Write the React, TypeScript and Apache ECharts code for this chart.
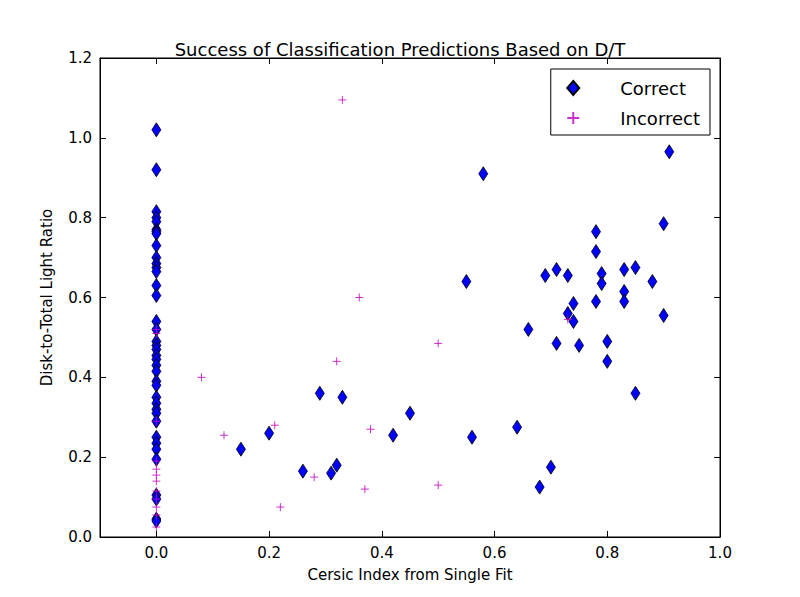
import React, { useEffect, useRef } from "react";
import * as echarts from "echarts";

const correctZeroY = [1.02, 0.92, 0.815, 0.8, 0.79, 0.77, 0.765, 0.76, 0.73, 0.7, 0.685, 0.675, 0.665, 0.63, 0.605, 0.54, 0.52, 0.49, 0.48, 0.47, 0.455, 0.445, 0.43, 0.415, 0.39, 0.38, 0.35, 0.335, 0.32, 0.31, 0.29, 0.25, 0.235, 0.22, 0.195, 0.105, 0.095, 0.045, 0.04];
const incorrectZeroY = [0.52, 0.51, 0.29, 0.19, 0.17, 0.155, 0.14, 0.115, 0.095, 0.075, 0.055, 0.025];

const correctOther: [number, number][] = [
	[0.15, 0.22], [0.2, 0.26], [0.26, 0.165], [0.29, 0.36], [0.31, 0.16], [0.32, 0.18], [0.33, 0.35],
	[0.42, 0.255], [0.45, 0.31], [0.55, 0.64], [0.56, 0.25], [0.58, 0.91], [0.64, 0.275], [0.66, 0.52],
	[0.68, 0.125], [0.69, 0.655], [0.7, 0.175], [0.71, 0.67], [0.71, 0.485], [0.73, 0.655], [0.73, 0.56],
	[0.74, 0.585], [0.74, 0.54], [0.75, 0.48], [0.78, 0.765], [0.78, 0.715], [0.78, 0.59], [0.79, 0.66],
	[0.79, 0.635], [0.8, 0.49], [0.8, 0.44], [0.83, 0.67], [0.83, 0.615], [0.83, 0.59], [0.85, 0.675],
	[0.85, 0.36], [0.88, 0.64], [0.9, 0.785], [0.9, 0.555], [0.91, 0.965],
];
const incorrectOther: [number, number][] = [
	[0.08, 0.4], [0.12, 0.255], [0.21, 0.28], [0.22, 0.075], [0.28, 0.15], [0.32, 0.44], [0.33, 1.095],
	[0.36, 0.6], [0.37, 0.12], [0.38, 0.27], [0.5, 0.485], [0.5, 0.13], [0.73, 0.545],
];

const font = "DejaVu Sans";

const App: React.FC = () => {
	const chartRef = useRef<HTMLDivElement>(null);

	useEffect(() => {
		if (!chartRef.current) return;
		const chart = echarts.init(chartRef.current, undefined, { renderer: "svg" });
		const correct = [...correctZeroY.map((y) => [0, y]), ...correctOther];
		const incorrect = [...incorrectZeroY.map((y) => [0, y]), ...incorrectOther];
		const axisBase = {
			type: "value" as const,
			axisLine: { show: true, onZero: false, lineStyle: { color: "#000" } },
			axisTick: { show: true, inside: true, length: 6, lineStyle: { color: "#000" } },
			splitLine: { show: false },
		};
		const onStep = (v: number) => Math.abs(Math.round(v / 0.2) * 0.2 - v) < 1e-6;
		chart.setOption({
			animation: false,
			textStyle: { fontFamily: font },
			title: {
				text: "Success of Classification Predictions Based on D/T",
				left: "center",
				top: 27,
				textStyle: { fontSize: 18, fontWeight: "normal", color: "#000", fontFamily: font },
			},
			grid: { left: 92, right: 72, top: 50, bottom: 52, show: true, borderColor: "#000", borderWidth: 1 },
			legend: {
				right: 82,
				top: 61,
				orient: "vertical",
				borderColor: "#000",
				borderWidth: 1,
				padding: [10, 10, 8, 14],
				itemGap: 12,
				itemWidth: 12,
				itemHeight: 14,
				textStyle: { fontSize: 18, color: "#000", fontFamily: font, padding: [0, 0, 0, 36] },
				data: ["Correct", "Incorrect"],
			},
			xAxis: [
				{
					...axisBase,
					min: -0.1,
					max: 1.0,
					minInterval: 0.2,
					name: "Cersic Index from Single Fit",
					nameLocation: "middle",
					nameGap: 30,
					nameTextStyle: { fontSize: 15, color: "#000", fontFamily: font },
					axisLabel: {
						color: "#000",
						fontSize: 15,
						margin: 8,
						showMinLabel: false,
						formatter: (v: number) => (onStep(v) ? v.toFixed(1) : ""),
					},
				},
				{ ...axisBase, position: "top", min: -0.1, max: 1.0, minInterval: 0.2, axisLabel: { show: false } },
			],
			yAxis: [
				{
					...axisBase,
					min: 0,
					max: 1.2,
					interval: 0.2,
					name: "Disk-to-Total Light Ratio",
					nameLocation: "middle",
					nameGap: 46,
					nameTextStyle: { fontSize: 15, color: "#000", fontFamily: font },
					axisLabel: { color: "#000", fontSize: 15, formatter: (v: number) => v.toFixed(1) },
				},
				{ ...axisBase, position: "right", min: 0, max: 1.2, interval: 0.2, axisLabel: { show: false } },
			],
			series: [
				{
					name: "Correct",
					type: "scatter",
					symbol: "diamond",
					symbolSize: [9, 14],
					itemStyle: { color: "#0000ff", borderColor: "#000", borderWidth: 0.8, opacity: 1 },
					data: correct,
				},
				{
					name: "Incorrect",
					type: "scatter",
					symbol: "path://M5,0V10M0,5H10",
					symbolSize: 8,
					itemStyle: { color: "none", borderColor: "#bf00bf", borderWidth: 1 },
					data: incorrect,
				},
			],
		});
		return () => chart.dispose();
	}, []);

	return <div ref={chartRef} style={{ width: "784px", height: "581px" }} />;
};

export default App;
